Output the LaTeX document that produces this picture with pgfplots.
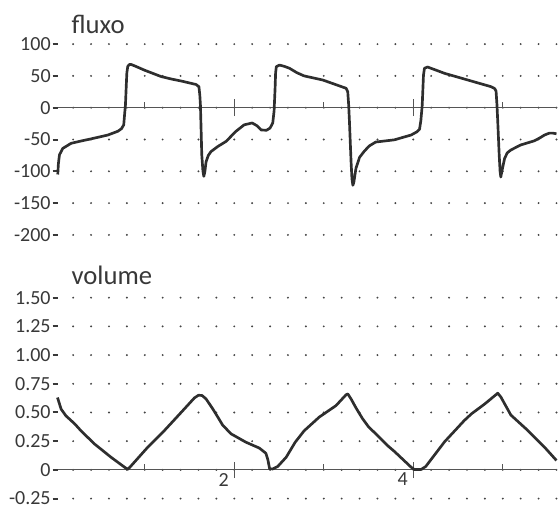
\documentclass[border=0pt]{standalone}
\usepackage{pgfplots}
\pgfplotsset{compat=1.18}
\usepackage{fontspec}
\setmainfont{Carlito}
\definecolor{curve}{HTML}{2E2E2E}
\definecolor{txt}{HTML}{383838}
\definecolor{dotc}{HTML}{444444}
\definecolor{axc}{HTML}{555555}

\pgfplotstableread{
x y
0.028 -105
0.035 -88
0.047 -74
0.084 -64
0.177 -56
0.30 -52
0.40 -49
0.587 -43
0.70 -37
0.74 -33
0.765 -27
0.775 -10
0.784 4
0.795 40
0.80 55
0.81 65
0.83 68
0.847 68
0.90 65
0.997 59
1.182 49
1.30 45
1.406 42
1.573 36.5
1.605 33
1.615 20
1.622 4
1.637 -74
1.650 -100
1.660 -108
1.672 -100
1.685 -85
1.71 -75
1.74 -69
1.816 -61
1.908 -53
2.02 -37
2.11 -27
2.20 -24
2.25 -28
2.30 -35
2.36 -35.5
2.40 -32
2.43 -24
2.445 -5
2.456 30
2.462 55
2.47 64.5
2.505 67
2.56 65
2.617 62
2.70 55
2.78 50
2.877 47
2.99 43.5
3.06 40
3.25 30.5
3.268 25
3.278 5
3.287 -22
3.305 -85
3.315 -112
3.325 -122
3.335 -118
3.36 -95
3.40 -78
3.455 -68
3.51 -60
3.58 -54
3.79 -50.5
3.90 -46
3.975 -43
4.04 -38
4.07 -34
4.085 -20
4.10 4
4.114 51
4.125 62
4.16 64
4.35 54
4.61 43.5
4.87 33
4.91 30
4.925 26
4.935 5
4.944 -22
4.96 -74
4.97 -100
4.978 -109
4.99 -100
5.02 -80
5.05 -71
5.09 -66.5
5.2 -58.6
5.354 -52
5.42 -47
5.466 -43
5.52 -40
5.56 -40
5.6 -41
}\fluxo

\pgfplotstableread{
x y
0.025 0.63
0.065 0.53
0.12 0.47
0.177 0.43
0.23 0.39
0.288 0.34
0.438 0.226
0.623 0.11
0.78 0.02
0.81 0.005
0.83 0.02
1.034 0.198
1.22 0.343
1.406 0.50
1.555 0.627
1.60 0.65
1.64 0.648
1.685 0.618
1.76 0.531
1.816 0.46
1.87 0.39
1.964 0.314
2.13 0.241
2.28 0.19
2.353 0.145
2.375 0.09
2.385 0.05
2.395 0.01
2.43 0.008
2.486 0.03
2.58 0.11
2.68 0.24
2.78 0.34
2.95 0.46
3.137 0.56
3.25 0.655
3.268 0.662
3.305 0.618
3.36 0.54
3.43 0.45
3.50 0.375
3.6 0.30
3.715 0.21
3.79 0.16
3.975 0.024
4.013 0.003
4.087 0.003
4.14 0.03
4.35 0.245
4.57 0.43
4.65 0.488
4.8 0.575
4.944 0.668
4.98 0.633
5.09 0.478
5.28 0.343
5.466 0.198
5.6 0.082
}\volume

\pgfplotsset{
 mystyle/.style={
  x=67.125pt,
  xmin=0.025, xmax=5.605,
  anchor=origin,
  axis x line*=middle,
  axis y line*=left,
  y axis line style={draw=none},
  x axis line style={draw=axc, line width=0.9pt},
  xtick={-10},
  minor xtick={1,3,5},
  minor tick length=4.5pt,
  xtick align=inside,
  ytick align=outside,
  major tick length=3.75pt,
  y tick style={draw=txt, line width=1.5pt},
  x tick style={draw=axc, line width=0.9pt},
  extra x ticks={2,4},
  extra x tick style={major tick length=12.5pt, xtick align=center,
     tick label style={anchor=north east, inner sep=0pt, xshift=-4pt, yshift=4pt}},
  ymajorgrids=true,
  major grid style={draw=dotc, line width=1.6pt, line cap=round,
     dash pattern=on 0pt off 13.425pt, dash phase=1.678pt},
  tick label style={font=\fontsize{15}{15}\selectfont, text=txt},
  yticklabel style={inner sep=0pt, xshift=-1.2pt},
  clip=false,
 }
}

\begin{document}
\begin{tikzpicture}
\useasboundingbox (0,0) rectangle (419.25pt,381pt);
\begin{axis}[mystyle,
  at={(43.125pt,300.225pt)},
  y=0.477pt,
  ymin=-200, ymax=100,
  ytick={-200,-150,-100,-50,0,50,100},
  yticklabels={-200,-150,-100,-50,0,50,100},
  extra x tick labels={},
]
\addplot[curve, line width=2pt, line join=round] table[x=x,y=y] {\fluxo};
\end{axis}
\begin{axis}[mystyle,
  at={(43.125pt,28.6pt)},
  y=86.1pt,
  ymin=-0.25, ymax=1.5,
  ytick={-0.25,0,0.25,0.5,0.75,1,1.25,1.5},
  yticklabels={-0.25,0,0.25,0.50,0.75,1.00,1.25,1.50},
  extra x tick labels={2,4},
]
\addplot[curve, line width=2pt, line join=round] table[x=x,y=y] {\volume};
\end{axis}
\node[anchor=base west, inner sep=0pt, font=\fontsize{20}{20}\selectfont, text=txt] at (53.5pt,355.5pt) {fluxo};
\node[anchor=base west, inner sep=0pt, font=\fontsize{20}{20}\selectfont, text=txt] at (53.5pt,167.5pt) {volume};
\end{tikzpicture}
\end{document}
